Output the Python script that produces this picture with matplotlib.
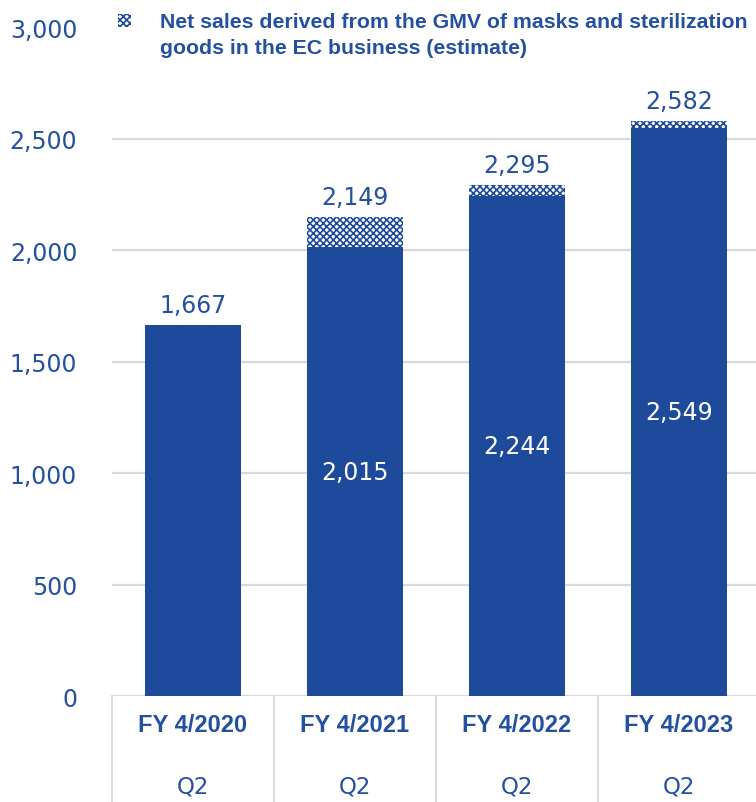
"""Quarterly net sales (Q2) with the mask/sterilization goods portion stacked on top."""
import matplotlib.pyplot as plt
from matplotlib.patches import Rectangle
from matplotlib.transforms import blended_transform_factory

BLUE = "#1E4A9C"
TEXT = "#2450A0"
GRID = "#D9D9D9"

fiscal_years = ["FY 4/2020", "FY 4/2021", "FY 4/2022", "FY 4/2023"]
quarter = ["Q2", "Q2", "Q2", "Q2"]
base_sales = [1667, 2015, 2244, 2549]
total_sales = [1667, 2149, 2295, 2582]
legend_text = ("Net sales derived from the GMV of masks and sterilization\n"
               "goods in the EC business (estimate)")
yticks = [0, 500, 1000, 1500, 2000, 2500, 3000]

plt.rcParams["hatch.linewidth"] = 1.2
plt.rcParams["hatch.color"] = BLUE

fig = plt.figure(figsize=(7.56, 8.03), dpi=100)
ax = fig.add_axes([0.148, 0.132, 0.857, 0.8325])

x = list(range(len(fiscal_years)))
mask_part = [t - b for t, b in zip(total_sales, base_sales)]

ax.bar(x, base_sales, width=0.59, color=BLUE, zorder=3)
ax.bar(x, mask_part, bottom=base_sales, width=0.59, facecolor="white",
       edgecolor=BLUE, hatch="xxxxx", linewidth=0, zorder=3)

for xi, b, t in zip(x, base_sales, total_sales):
    ax.text(xi, t + 35, f"{t:,}", ha="center", va="bottom",
            fontsize=17, color=TEXT)
    if t != b:
        ax.text(xi, b / 2, f"{b:,}", ha="center", va="center",
                fontsize=17, color="white")

ax.set_xlim(-0.5, 3.5)
ax.set_ylim(0, 3000)
ax.set_yticks(yticks)
ax.set_yticklabels([f"{v:,}" for v in yticks], fontsize=17, color=TEXT)
ax.tick_params(axis="y", length=0, pad=25)
ax.set_xticks([])
for side in ("top", "right", "left", "bottom"):
    ax.spines[side].set_visible(False)

for v in yticks[:-1]:
    ax.axhline(v, color=GRID, linewidth=1.6, zorder=1)

# category table under the axis
trans = blended_transform_factory(ax.transData, ax.transAxes)
for edge in [-0.5, 0.5, 1.5, 2.5, 3.5]:
    ax.plot([edge, edge], [0, -0.2], color=GRID, linewidth=1.4,
            transform=trans, clip_on=False)
for xi, fy, q in zip(x, fiscal_years, quarter):
    ax.text(xi, -0.043, fy, transform=trans, ha="center", va="center",
            fontsize=17, fontweight="bold", family="Liberation Sans",
            color=TEXT)
    ax.text(xi, -0.134, q, transform=trans, ha="center", va="center",
            fontsize=16.5, color=TEXT)

# legend
fig.patches.append(Rectangle((118 / 756, 1 - 28 / 803), 13 / 756, 13 / 803,
                             transform=fig.transFigure, facecolor="white",
                             edgecolor=BLUE, hatch="xxxxx", linewidth=0))
fig.text(160 / 756, 1 - 13 / 803, legend_text, ha="left", va="top",
         fontsize=15.3, fontweight="bold", family="Liberation Sans",
         color=TEXT, linespacing=1.5)

fig.savefig("out.png", dpi=100)
